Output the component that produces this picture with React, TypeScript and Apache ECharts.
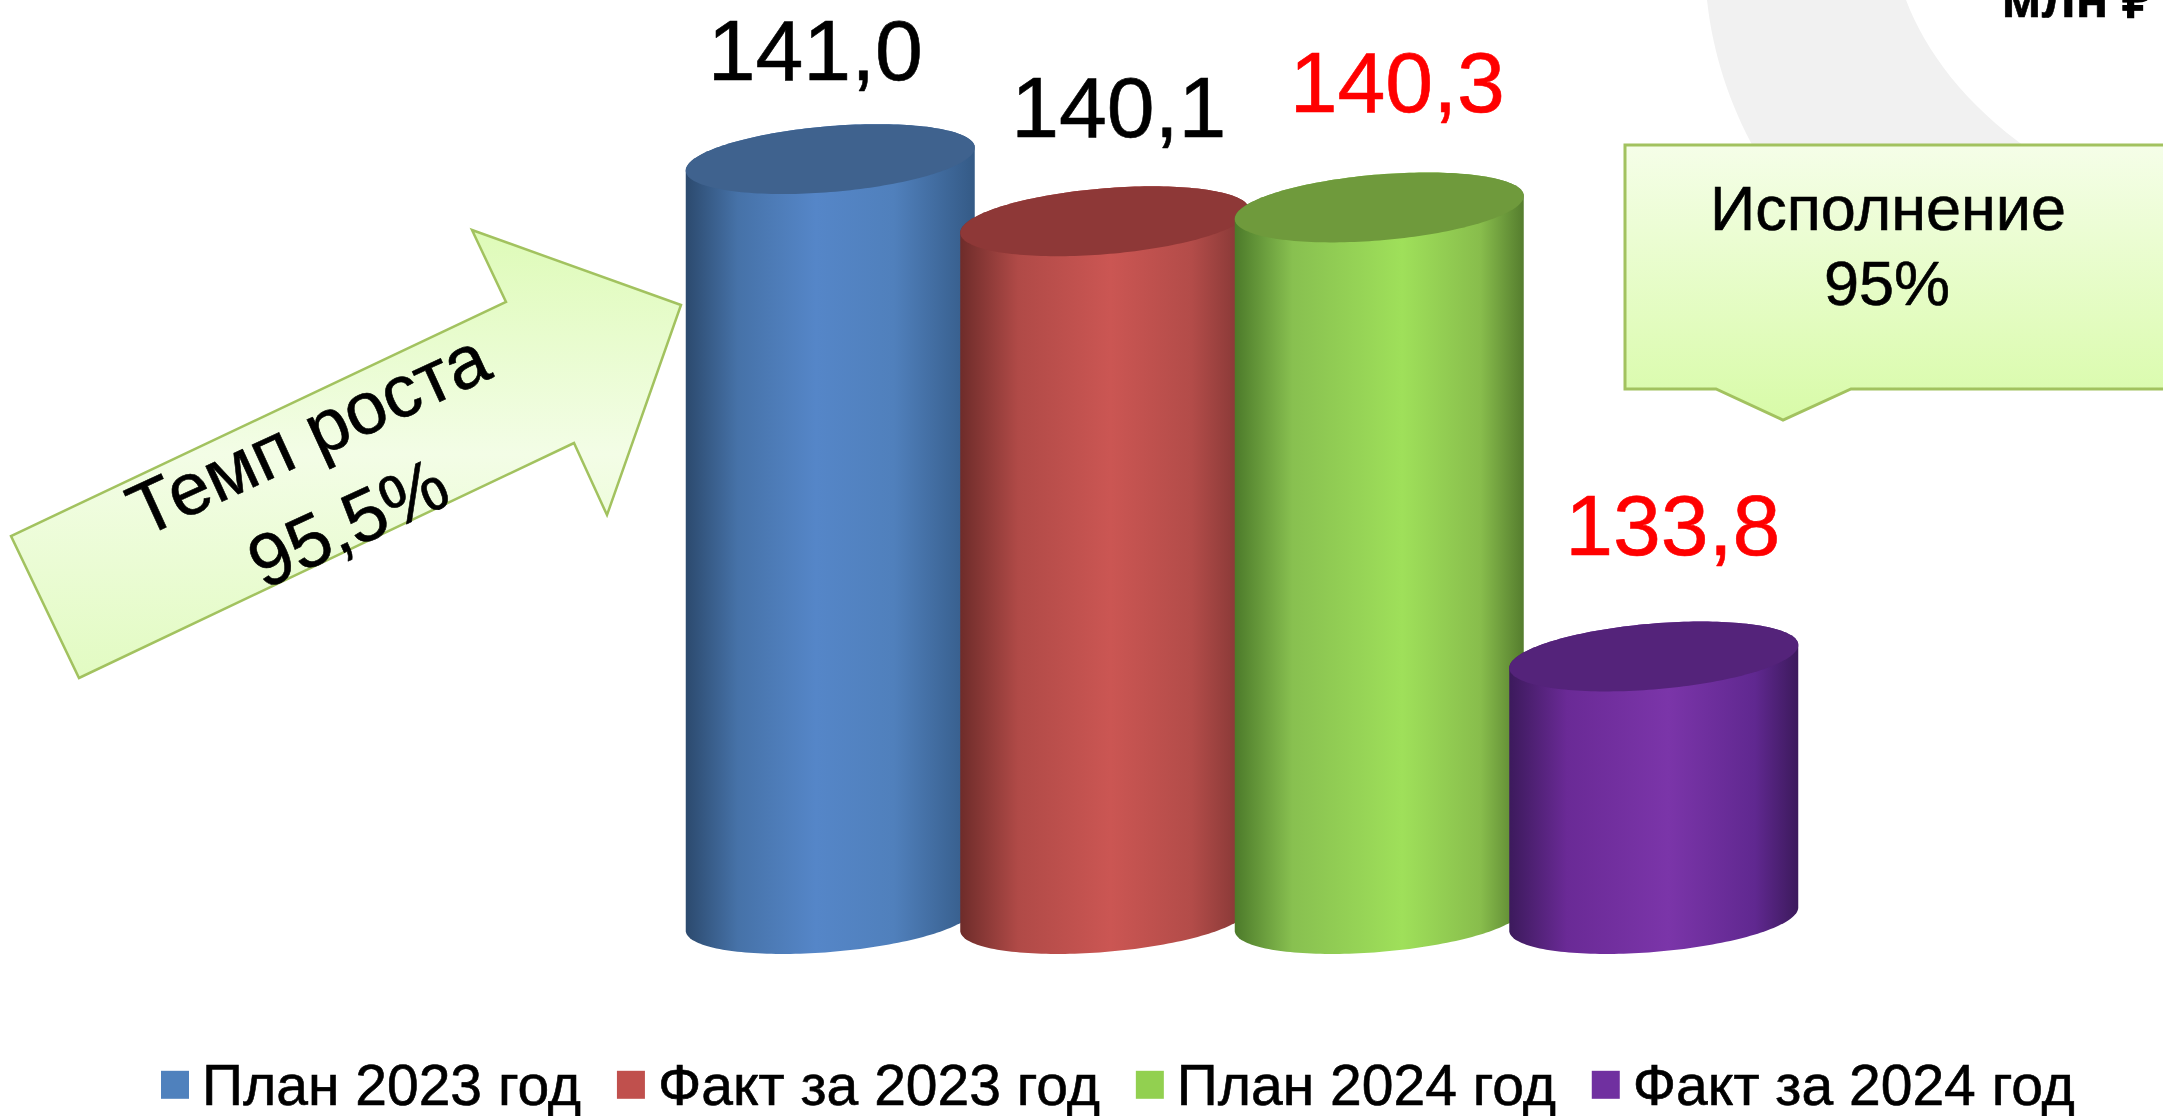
import React, { useEffect, useRef } from "react";
import * as echarts from "echarts";

const categories = ["План 2023 год", "Факт за 2023 год", "План 2024 год", "Факт за 2024 год"];
const values = [141.0, 140.1, 140.3, 133.8];
const valueLabelColors = ["#000000", "#000000", "#ff0000", "#ff0000"];
const legendColors = ["#4F81BD", "#C0504D", "#92D050", "#7030A0"];
const capColors = ["#3F628E", "#8E3837", "#6F9A3C", "#54237A"];
const bodyStops = [
  [[0, "#2c4a6e"], [0.18, "#4672a8"], [0.45, "#5586c8"], [0.72, "#5080bc"], [1, "#345a86"]],
  [[0, "#6e2c2a"], [0.2, "#b04a47"], [0.52, "#cb5653"], [0.8, "#b34c49"], [1, "#7f3533"]],
  [[0, "#4c7a2a"], [0.2, "#88c050"], [0.58, "#9fe05a"], [0.85, "#88bd4c"], [1, "#557d2e"]],
  [[0, "#3c1a5c"], [0.2, "#6a2a96"], [0.55, "#7b35a9"], [0.85, "#602890"], [1, "#3c1a5c"]],
];
const labelOffsets = [[-15, -109], [14, -114], [18, -125], [19, -131]];
const AXIS_MIN = 130;
const AXIS_MAX = 142;

const FONT = '"Liberation Sans", Arial, sans-serif';
const HW = 144.5;
const SKEW = 11.5;
const K = 33;

function ellipsePt(cx: number, cy: number, t: number): number[] {
  return [cx + HW * Math.cos(t), cy - SKEW * Math.cos(t) + K * Math.sin(t)];
}

function renderCylinder(params: any, api: any) {
  const i = api.value(0);
  const v = api.value(1);
  const top = api.coord([i, v]);
  const base = api.coord([i, AXIS_MIN]);
  const cx = top[0];
  const body: number[][] = [];
  const N = 90;
  for (let k = 0; k <= N; k++) body.push(ellipsePt(cx, base[1], (Math.PI * k) / N));
  for (let k = 0; k <= N; k++) body.push(ellipsePt(cx, top[1], Math.PI + (Math.PI * k) / N));
  const cap: number[][] = [];
  for (let k = 0; k < 180; k++) cap.push(ellipsePt(cx, top[1], (2 * Math.PI * k) / 180));
  const stops = bodyStops[i].map((s: any) => ({ offset: s[0], color: s[1] }));
  return {
    type: "group",
    children: [
      {
        type: "polygon",
        shape: { points: body },
        style: { fill: new echarts.graphic.LinearGradient(0, 0, 1, 0, stops) },
      },
      { type: "polygon", shape: { points: cap }, style: { fill: capColors[i] } },
      {
        type: "text",
        x: cx + labelOffsets[i][0],
        y: top[1] + labelOffsets[i][1],
        style: {
          text: v.toFixed(1).replace(".", ","),
          fontSize: 86,
          fontFamily: FONT,
          fill: valueLabelColors[i],
          stroke: valueLabelColors[i],
          lineWidth: 0.6,
          align: "center",
          verticalAlign: "middle",
        },
      },
    ],
  };
}

echarts.graphic.registerShape(
  "bgArc",
  echarts.graphic.extendPath(
    "M1707 0 C1713 55 1730 105 1755 150 L2030 150 C1965 105 1925 50 1906 0 Z" as any,
    {} as any
  ) as any
);

const label = (text: string, x: number, y: number, rotation = 0, fontSize = 63, weight = "normal") => ({
  type: "text",
  x,
  y,
  rotation,
  z: 5,
  style: {
    text,
    fontSize,
    fontFamily: FONT,
    fontWeight: weight,
    fill: "#000",
    stroke: "#000",
    lineWidth: 0.6,
    align: "center",
    verticalAlign: "middle",
  },
});

const STROKE = "#A2C25F";

export default function App() {
  const ref = useRef<HTMLDivElement>(null);
  useEffect(() => {
    const chart = echarts.init(ref.current!, undefined, { renderer: "svg" });
    chart.setOption({
      animation: false,
      backgroundColor: "#ffffff",
      color: legendColors,
      grid: { left: 693, width: 1098, top: 90, height: 829 },
      xAxis: { type: "category", data: categories, show: false },
      yAxis: { type: "value", min: AXIS_MIN, max: AXIS_MAX, show: false },
      legend: {
        data: categories,
        left: 156,
        top: 1051,
        itemWidth: 28,
        itemHeight: 28,
        itemGap: 35.5,
        icon: "rect",
        textStyle: {
          fontSize: 57,
          fontFamily: FONT,
          color: "#000",
          padding: [0, 0, 0, 8],
          textBorderColor: "#000",
          textBorderWidth: 0.6,
        },
      },
      series: categories.map((name, i) => ({
        name,
        type: "custom",
        renderItem: renderCylinder,
        encode: { x: 0, y: 1 },
        itemStyle: { color: legendColors[i] },
        data: [[i, values[i]]],
        z: 2 + i,
      })),
      graphic: [
        { type: "bgArc", x: 0, y: 0, z: 0, style: { fill: "#F1F1F1" } },
        {
          type: "polygon",
          z: 1,
          shape: {
            points: [[1625, 145], [2175, 145], [2175, 389], [1851, 389], [1783, 420], [1716, 389], [1625, 389]],
          },
          style: {
            stroke: STROKE,
            lineWidth: 3,
            fill: new echarts.graphic.LinearGradient(0, 0, 0, 1, [
              { offset: 0, color: "#F5FEE8" },
              { offset: 1, color: "#D8FBA8" },
            ]),
          },
        },
        label("Исполнение", 1888, 208),
        label("95%", 1887, 283),
        {
          type: "polygon",
          z: 1,
          shape: {
            points: [[681, 305], [472, 230], [506, 302], [11, 536], [79, 678], [574, 443], [607, 515]],
          },
          style: {
            stroke: STROKE,
            lineWidth: 2.5,
            fill: new echarts.graphic.LinearGradient(0, 0, 0, 1, [
              { offset: 0, color: "#DEFBB8" },
              { offset: 0.5, color: "#F3FDE6" },
              { offset: 1, color: "#E2FBC2" },
            ]),
          },
        },
        label("Темп роста", 308, 434, 0.43, 74),
        label("95,5%", 348, 523, 0.43, 74),
        label("млн ₽", 2078, -2, 0, 54, "bold"),
      ],
    });
    return () => chart.dispose();
  }, []);
  return <div ref={ref} style={{ position: "fixed", left: 0, top: 0, width: 2163, height: 1116 }} />;
}
